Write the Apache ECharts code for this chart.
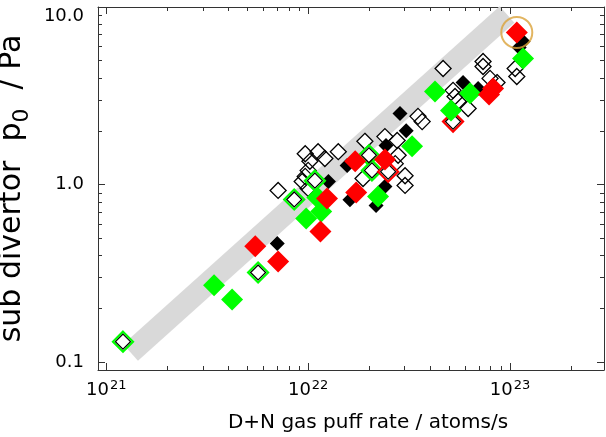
<!DOCTYPE html>
<html>
<head>
<meta charset="utf-8">
<script src="https://cdn.jsdelivr.net/npm/echarts@6/dist/echarts.min.js"></script>
<style>
html, body {margin: 0; padding: 0; background: #fff;}
#chart {width: 606px; height: 437px;}
</style>
</head>
<body>
<div id="chart"></div>
<script>
// axis ranges (log-log)
const xMin = 9.1e20, xMax = 2.92e23
const yMin = 0.09, yMax = 10

// minor tick values
const xMinorTicks = [2e21, 3e21, 4e21, 5e21, 6e21, 7e21, 8e21, 9e21,
    2e22, 3e22, 4e22, 5e22, 6e22, 7e22, 8e22, 9e22, 2e23]
const yMinorTicks = [0.2, 0.3, 0.4, 0.5, 0.6, 0.7, 0.8, 0.9, 2, 3, 4, 5, 6, 7, 8, 9]

// grey scaling band (start / end)
const bandX = [1.32e21, 9.66e22]
const bandY = [0.113, 9.07]

// open black diamonds
const openBlackX = [7.1e21, 9.67e21, 1.12e22, 1.21e22, 1.02e22, 1.41e22, 1.0e22, 9.67e21,
    1.91e22, 2.40e22, 2.76e22, 3.5e22, 3.67e22, 1.87e22, 3.02e22, 3.02e22, 2.7e22, 2.79e22,
    4.66e22, 7.35e22, 7.35e22, 1.06e23, 1.08e23, 5.22e22, 5.34e22, 6.2e22, 7.96e22, 8.62e22,
    5.53e22, 9.34e21, 1.0e22]
const openBlackY = [0.925, 1.49, 1.53, 1.40, 1.35, 1.53, 1.2, 1.11,
    1.75, 1.86, 1.77, 2.42, 2.26, 1.08, 1.12, 0.987, 1.31, 1.46,
    4.5, 4.93, 4.62, 4.5, 4.06, 3.39, 3.13, 2.68, 3.96, 3.75,
    2.94, 1.04, 0.95]

// filled black diamonds
const blackX = [7.03e21, 1.26e22, 1.56e22, 1.61e22, 2.85e22, 3.06e22, 2.43e22, 2.40e22,
    2.17e22, 5.85e22, 6.95e22, 1.16e23, 1.11e23]
const blackY = [0.465, 1.04, 1.28, 0.82, 2.51, 2.01, 1.66, 0.974,
    0.762, 3.75, 3.47, 6.39, 5.91]

// open green diamonds
const openGreenX = [1.21e21, 5.65e21, 8.53e21, 1.08e22, 2.0e22, 2.07e22]
const openGreenY = [0.130, 0.319, 0.823, 1.05, 1.46, 1.20]

// open red diamonds
const openRedX = [5.22e22, 2.49e22]
const openRedY = [2.26, 1.18]

// filled green diamonds
const greenX = [3.42e21, 4.2e21, 9.78e21, 1.16e22, 1.11e22, 2.22e22, 3.27e22, 4.25e22,
    5.1e22, 6.34e22, 1.16e23]
const greenY = [0.270, 0.225, 0.643, 0.705, 0.845, 0.856, 1.64, 3.34,
    2.61, 3.26, 5.13]

// filled red diamonds
const redX = [5.47e21, 7.1e21, 1.15e22, 1.24e22, 1.71e22, 1.73e22, 2.40e22, 8.24e22, 7.87e22, 1.08e23]
const redY = [0.448, 0.368, 0.543, 0.834, 1.35, 0.90, 1.38, 3.47, 3.21, 7.18]

// highlighted shot
const circleX = [1.08e23]
const circleY = [7.18]

const zip = (xs, ys) => xs.map((x, i) => [x, ys[i]])
const font = 'DejaVu Sans, sans-serif'
const axisColor = '#333'

const isPow10 = v => Math.abs(Math.log10(v) - Math.round(Math.log10(v))) < 1e-6

function diamonds(name, xs, ys, size, color, border, borderWidth) {
    return {
        name: name,
        type: 'scatter',
        symbol: 'diamond',
        symbolSize: size,
        z: 3,
        data: zip(xs, ys),
        silent: true,
        itemStyle: {
            color: color,
            borderColor: border || color,
            borderWidth: borderWidth || 0,
            opacity: 1
        }
    }
}

function minorTicks(isX) {
    return {
        type: 'custom',
        silent: true,
        z: 4,
        data: isX ? xMinorTicks.map(v => [v, yMin]) : yMinorTicks.map(v => [xMin, v]),
        renderItem: function (params, api) {
            const cs = params.coordSys
            const p = api.coord([api.value(0), api.value(1)])
            const style = {stroke: axisColor, lineWidth: 1}
            const len = 4
            if (isX) {
                const x = Math.round(p[0]) + 0.5
                return {type: 'group', children: [
                    {type: 'line', shape: {x1: x, y1: cs.y + cs.height, x2: x, y2: cs.y + cs.height - len}, style: style},
                    {type: 'line', shape: {x1: x, y1: cs.y, x2: x, y2: cs.y + len}, style: style}
                ]}
            }
            const y = Math.round(p[1]) + 0.5
            return {type: 'group', children: [
                {type: 'line', shape: {x1: cs.x, y1: y, x2: cs.x + len, y2: y}, style: style},
                {type: 'line', shape: {x1: cs.x + cs.width, y1: y, x2: cs.x + cs.width - len, y2: y}, style: style}
            ]}
        }
    }
}

const chart = echarts.init(document.getElementById('chart'))

const xBase = {
    type: 'log',
    logBase: 10,
    min: xMin,
    max: xMax,
    splitLine: {show: false},
    axisLine: {lineStyle: {color: axisColor, width: 1}},
    axisTick: {inside: true, length: 7, lineStyle: {color: axisColor}}
}
const yBase = {
    type: 'log',
    logBase: 10,
    min: yMin,
    max: yMax,
    splitLine: {show: false},
    axisLine: {lineStyle: {color: axisColor, width: 1}},
    axisTick: {inside: true, length: 7, lineStyle: {color: axisColor}}
}

const option = {
    animation: false,
    backgroundColor: '#fff',
    grid: {left: 98, right: 2, top: 7, bottom: 67, outerBoundsMode: 'none', containLabel: false},
    xAxis: [
        Object.assign({}, xBase, {
            position: 'bottom',
            name: 'D+N gas puff rate / atoms/s',
            nameLocation: 'middle',
            nameGap: 43,
            nameTextStyle: {fontFamily: font, fontSize: 20, color: '#000', padding: [0, 0, 0, 34]},
            axisLabel: {
                margin: 9,
                formatter: v => isPow10(v) ? '{b|10}{s|' + Math.round(Math.log10(v)) + '}' : '',
                rich: {
                    b: {fontFamily: font, fontSize: 18, color: '#000', verticalAlign: 'bottom', lineHeight: 20},
                    s: {fontFamily: font, fontSize: 13, color: '#000', verticalAlign: 'top', lineHeight: 13, padding: [0, 0, 0, 1]}
                }
            }
        }),
        Object.assign({}, xBase, {position: 'top', axisLabel: {show: false}})
    ],
    yAxis: [
        Object.assign({}, yBase, {
            position: 'left',
            name: '{a|sub divertor  p}{s|0}{a|  / Pa}',
            nameLocation: 'middle',
            nameGap: 56,
            nameTextStyle: {
                rich: {
                    a: {fontFamily: font, fontSize: 30, color: '#000', lineHeight: 30, padding: [0, 0, 6, 0], verticalAlign: 'bottom'},
                    s: {fontFamily: font, fontSize: 22, color: '#000', lineHeight: 22, verticalAlign: 'bottom'}
                }
            },
            axisLabel: {
                margin: 14,
                fontFamily: font,
                fontSize: 18,
                color: '#000',
                formatter: v => {
                    if (!isPow10(v)) return ''
                    const e = Math.round(Math.log10(v))
                    const txt = Math.pow(10, e).toFixed(1)
                    return e >= 1 ? '{t|' + txt + '}' : txt
                },
                rich: {
                    t: {fontFamily: font, fontSize: 18, color: '#000', padding: [18, 0, 0, 0]}
                }
            }
        }),
        Object.assign({}, yBase, {position: 'right', axisLabel: {show: false}})
    ],
    series: [
        {
            type: 'line',
            z: 1,
            data: zip(bandX, bandY),
            symbol: 'none',
            silent: true,
            lineStyle: {color: '#d9d9d9', width: 22, cap: 'butt'}
        },
        minorTicks(true),
        minorTicks(false),
        diamonds('open-fill', openBlackX, openBlackY, 16, '#fff'),
        diamonds('open', openBlackX, openBlackY, 16, 'rgba(0,0,0,0)', '#000', 1.3),
        diamonds('black', blackX, blackY, 15, '#000'),
        diamonds('open-green', openGreenX, openGreenY, 20, '#fff', '#00ff00', 2.2),
        diamonds('open-green-in', openGreenX, openGreenY, 15, 'rgba(0,0,0,0)', '#000', 1.2),
        diamonds('open-red', openRedX, openRedY, 20, '#fff', '#ff0000', 2.2),
        diamonds('open-red-in', openRedX, openRedY, 15, 'rgba(0,0,0,0)', '#000', 1.2),
        diamonds('green', greenX, greenY, 22, '#00ff00'),
        diamonds('red', redX, redY, 22, '#ff0000'),
        {
            type: 'scatter',
            symbol: 'circle',
            symbolSize: 31,
            z: 3,
            silent: true,
            data: zip(circleX, circleY),
            itemStyle: {color: 'rgba(0,0,0,0)', borderColor: '#dba23a', borderWidth: 2}
        }
    ]
}
chart.setOption(option)
</script>
</body>
</html>
